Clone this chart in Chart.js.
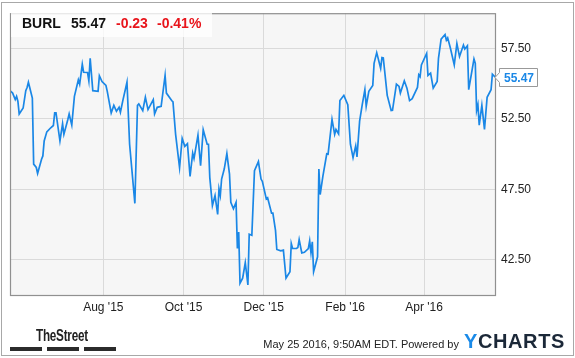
<!DOCTYPE html>
<html>
<head>
<meta charset="utf-8">
<script src="https://cdn.jsdelivr.net/npm/chart.js@4.4.1/dist/chart.umd.min.js"></script>
<style>
body{margin:0;background:#fff;}
#wrap{position:relative;width:575px;height:358px;font-family:"Liberation Sans",Arial,sans-serif;}
#c{position:absolute;left:0;top:0;}
#frame{position:absolute;left:1px;top:2px;width:571px;height:352px;border:1px solid #a8a8a8;pointer-events:none;}
#hdr{position:absolute;left:11px;top:11px;width:201px;height:26px;background:rgba(255,255,255,0.78);}
.h{position:absolute;top:16px;font-size:14px;line-height:14px;font-weight:bold;white-space:nowrap;}
#callout{position:absolute;left:499px;width:38px;height:18px;line-height:18px;text-align:center;font-size:12px;font-weight:bold;color:#1a87e6;}
#street{position:absolute;left:36px;top:328px;font-size:16px;line-height:16px;font-weight:bold;color:#222;transform:scaleX(0.73);transform-origin:0 0;letter-spacing:-0.3px;}
.bar{position:absolute;top:347px;height:4px;width:32px;background:#2b2b2b;}
#stamp{position:absolute;right:116px;top:339px;font-size:11px;line-height:11px;color:#222;white-space:nowrap;}
#ych{position:absolute;left:464px;top:331px;font-size:20px;line-height:20px;font-weight:bold;color:#1b2838;letter-spacing:0.6px;}
#ych span{color:#1a8ae8;}
</style>
</head>
<body>
<div id="wrap">
  <canvas id="c" width="575" height="358"></canvas>
  <div id="hdr"></div>
  <div class="h" style="left:22px;color:#111">BURL</div>
  <div class="h" style="left:71px;color:#111">55.47</div>
  <div class="h" style="left:116px;color:#e8141b">-0.23</div>
  <div class="h" style="left:157px;color:#e8141b">-0.41%</div>
  <div id="callout"></div>
  <div id="street">TheStreet</div>
  <div class="bar" style="left:10px"></div>
  <div class="bar" style="left:47px"></div>
  <div class="bar" style="left:84px"></div>
  <div id="stamp">May 25 2016, 9:50AM EDT. Powered by</div>
  <div id="ych"><span>Y</span>CHARTS</div>
  <div id="frame"></div>
</div>
<script>
// ── DATA (BURL closing price, days counted from 1 Aug 2015) ──
const days = [-71,-69,-67,-66,-65,-64,-61,-59,-58,-57,-56,-54,-53,-51,-50,-47,-46,-45,-43,-40,
  -38,-37,-36,-33,-31,-30,-27,-26,-24,-22,-19,-18,-16,-15,-12,-11,-10,-8,-4,-3,
  -1,2,3,6,8,10,12,13,15,18,20,24,26,27,30,32,34,38,39,41,
  44,47,48,52,53,55,58,60,62,64,66,68,69,72,74,76,79,80,81,83,
  85,87,88,89,90,92,94,96,97,99,101,102,103,104,106,108,110,111,113,115,
  118,120,121,124,125,128,129,131,132,135,137,139,142,143,144,147,148,149,151,153,
  156,157,158,159,160,163,164,165,167,170,171,174,176,177,179,180,183,186,188,190,
  192,193,195,197,199,200,202,205,206,208,211,212,213,216,219,220,223,225,226,229,
  231,233,235,239,240,241,242,246,247,249,251,254,255,257,260,261,262,264,267,269,
  271,274,275,277,278,282,283,284,285,286,288,290,292,295,296,298];
const prices = [54.5,54.33,53.87,54.1,53.75,52.85,53.27,54.5,54.73,55.1,54.73,53.98,49.29,49.05,48.63,49.64,49.87,50.93,51.58,51.87,
  52.03,52.92,52.92,50.93,52.15,51.4,52.46,52.85,52.06,54.1,55.27,54.96,56.37,55.81,55.79,55.2,56.8,54.5,54.45,55.56,
  55.15,54.87,54.45,52.92,53.46,53.04,53.32,52.97,53.87,55.1,50.7,46.5,53.46,53.56,53.09,54.03,53.16,53.87,52.85,53.32,
  53.39,55.58,54.33,53.8,53.7,51.4,49.05,51.12,50.55,50.74,48.42,50.07,49.68,51.34,49.17,51.73,50.7,50.7,48.35,46.35,
  47.06,45.72,47.53,47.06,48.23,48.94,50.04,48.58,46.58,46.12,46.58,43.3,44.47,40.84,41.19,42.29,40.72,44.31,44.24,48.82,
  49.47,48.23,48.06,46.82,46.9,45.81,45.81,44.59,43.23,43.13,43.18,41.19,41.65,43.65,43.3,43.3,43.37,43.94,42.99,43.03,
  43.3,43.84,42.99,43.77,41.65,42.71,48.94,47.13,48.4,50.02,50.0,52.46,51.4,51.75,51.44,53.8,54.17,53.51,50.7,49.75,
  50.58,49.8,52.34,53.51,54.57,53.39,54.45,54.87,56.44,57.2,56.09,56.85,56.83,54.17,53.09,53.11,54.96,54.8,54.33,55.2,
  54.68,53.8,53.94,54.73,55.63,55.5,56.33,57.15,55.58,55.74,54.68,55.15,56.8,58.16,58.49,58.09,58.25,57.55,56.33,57.85,
  56.92,57.74,57.46,57.69,54.57,56.75,56.44,53.09,53.51,52.06,53.46,51.75,54.03,54.57,55.67,55.47];
const tickDays = [0, 61, 122, 184, 244];
const tickLabels = ["Aug '15", "Oct '15", "Dec '15", "Feb '16", "Apr '16"];
const priceTicks = [42.5, 47.5, 52.5, 57.5];

const FONT = '"Liberation Sans", Arial, sans-serif';
const LINE = '#1a87e6';

// ── PLOT BACKGROUND, BORDER, CALLOUT BOX ──
const deco = {
  id:'deco',
  beforeDraw(chart){
    const {ctx, chartArea:a} = chart;
    ctx.save();
    ctx.fillStyle = '#f6f6f6';
    ctx.fillRect(a.left, a.top, a.right-a.left, a.bottom-a.top);
    ctx.restore();
  },
  afterDraw(chart){
    const {ctx, chartArea:a} = chart;
    ctx.save();
    ctx.strokeStyle = '#909090';
    ctx.lineWidth = 1.2;
    ctx.strokeRect(a.left+0.5, a.top+0.5, a.right-a.left, a.bottom-a.top);
    const pts = chart.getDatasetMeta(0).data;
    const ly = Math.round(pts[pts.length-1].y)+0.5;
    const bx = a.right+4.5, bw = 38;
    ctx.beginPath();
    ctx.moveTo(bx, ly-9); ctx.lineTo(bx+bw, ly-9); ctx.lineTo(bx+bw, ly+9);
    ctx.lineTo(bx, ly+9); ctx.lineTo(bx, ly+5); ctx.lineTo(a.right, ly); ctx.lineTo(bx, ly-5);
    ctx.closePath();
    ctx.fillStyle = '#fff'; ctx.fill();
    ctx.strokeStyle = '#999'; ctx.lineWidth = 1; ctx.stroke();
    ctx.restore();
  }
};

const chart = new Chart(document.getElementById('c'), {
  type:'line',
  data:{
    datasets:[{
      data: days.map((d,i)=>({x:d, y:prices[i]})),
      borderColor: LINE, borderWidth:1.7, pointRadius:0, tension:0, fill:false
    }]
  },
  options:{
    responsive:false, animation:false,
    layout:{padding:{top:10, left:10, right:0, bottom:0}},
    plugins:{legend:{display:false}, tooltip:{enabled:false}},
    scales:{
      x:{
        type:'linear', min:-71, max:298,
        afterBuildTicks(s){ s.ticks = tickDays.map(v=>({value:v})); },
        afterFit(s){ s.height = 63; },
        grid:{color:'#dadada', lineWidth:1, drawTicks:false},
        border:{display:false},
        ticks:{
          callback:(v)=>tickLabels[tickDays.indexOf(v)],
          color:'#222', font:{family:FONT, size:12}, padding:5, maxRotation:0, autoSkip:false
        }
      },
      y:{
        position:'right', min:40, max:60,
        afterBuildTicks(s){ s.ticks = priceTicks.map(v=>({value:v})); },
        afterFit(s){ s.width = 80; },
        grid:{color:'#dadada', lineWidth:1, drawTicks:false},
        border:{display:false},
        ticks:{
          callback:(v)=>v.toFixed(2),
          color:'#222', font:{family:FONT, size:12}, padding:6
        }
      }
    }
  },
  plugins:[deco]
});

// ── CURRENT VALUE TAG ──
const pts = chart.getDatasetMeta(0).data;
const co = document.getElementById('callout');
co.textContent = prices[prices.length-1].toFixed(2);
co.style.top = (Math.round(pts[pts.length-1].y) - 8.5) + 'px';
co.style.left = (chart.chartArea.right + 5) + 'px';
</script>
</body>
</html>
